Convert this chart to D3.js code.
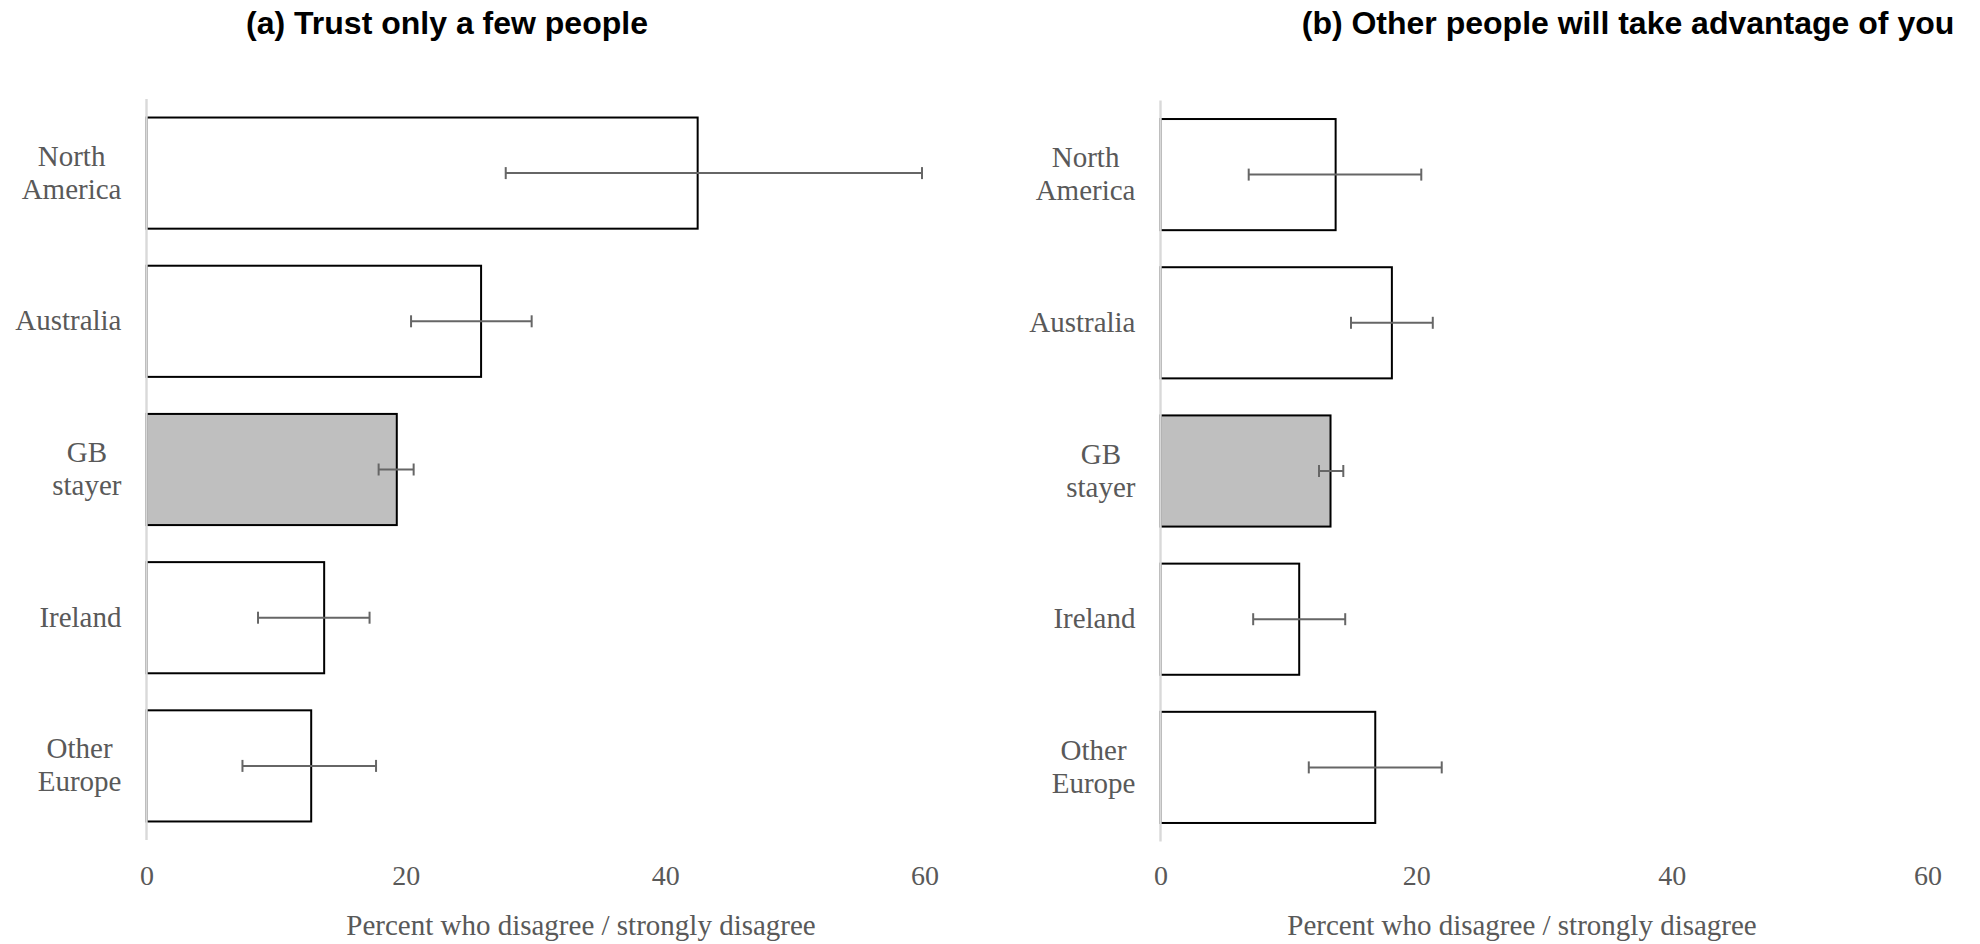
<!DOCTYPE html>
<html>
<head>
<meta charset="utf-8">
<script src="https://cdn.jsdelivr.net/npm/d3@7"></script>
<style>
  html, body { margin: 0; padding: 0; background: #fff; }
  svg { display: block; }
</style>
</head>
<body>
<svg id="chart" width="1980" height="944"></svg>
<script>
// ---- data ----
const categories = ["North America", "Australia", "GB stayer", "Ireland", "Other Europe"];
const categoryLines = [["North", "America"], ["Australia"], ["GB", "stayer"], ["Ireland"], ["Other", "Europe"]];
const highlighted = "GB stayer";

const titleA = "(a) Trust only a few people";
const valuesA = [42.5, 25.8, 19.3, 13.7, 12.7];
const lowerA  = [27.7, 20.4, 17.9, 8.6, 7.4];
const upperA  = [59.8, 29.7, 20.6, 17.2, 17.7];

const titleB = "(b) Other people will take advantage of you";
const valuesB = [13.7, 18.1, 13.3, 10.85, 16.8];
const lowerB  = [6.9, 14.9, 12.4, 7.25, 11.6];
const upperB  = [20.4, 21.3, 14.3, 14.45, 22.0];

const tickValues = [0, 20, 40, 60];
const xDomain = [0, 60];
const axisTitle = "Percent who disagree / strongly disagree";

// ---- layout ----
const svg = d3.select("#chart");
const serif = "'Liberation Serif', 'Times New Roman', serif";
const sans = "'Liberation Sans', Arial, sans-serif";
const textColor = "#595959";

const panels = [
  { title: titleA, values: valuesA, lower: lowerA, upper: upperA,
    x0: 146.5, x1: 924.6, y0: 99, y1: 840, titleX: 447, axisTitleX: 581 },
  { title: titleB, values: valuesB, lower: lowerB, upper: upperB,
    x0: 1160.5, x1: 1927.5, y0: 100.5, y1: 841.5, titleX: 1628, axisTitleX: 1522 }
];

panels.forEach(p => {
  const g = svg.append("g");
  const x = d3.scaleLinear().domain(xDomain).range([p.x0, p.x1]);
  const y = d3.scaleBand().domain(categories).range([p.y0, p.y1])
    .paddingInner(0.25).paddingOuter(0.125);

  const rows = categories.map((c, i) => ({
    cat: c, lines: categoryLines[i], v: p.values[i], lo: p.lower[i], hi: p.upper[i]
  }));

  // title
  g.append("text")
    .attr("x", p.titleX).attr("y", 34)
    .attr("text-anchor", "middle")
    .style("font-family", sans).style("font-weight", "bold")
    .style("font-size", "32px").style("fill", "#000")
    .text(p.title);

  // x axis (tick labels only)
  const xAxis = d3.axisBottom(x).tickValues(tickValues).tickSize(0).tickPadding(0);
  const ax = g.append("g").attr("transform", `translate(0, 885)`).call(xAxis);
  ax.select(".domain").remove();
  ax.selectAll("text")
    .attr("dy", 0).attr("y", 0)
    .style("font-family", serif).style("font-size", "28px").style("fill", textColor);

  // axis title
  g.append("text")
    .attr("x", p.axisTitleX).attr("y", 935)
    .attr("text-anchor", "middle")
    .style("font-family", serif).style("font-size", "29px").style("fill", textColor)
    .text(axisTitle);

  // bars
  g.selectAll("rect.bar").data(rows).join("rect")
    .attr("class", "bar")
    .attr("x", x(0))
    .attr("y", d => y(d.cat))
    .attr("width", d => x(d.v) - x(0))
    .attr("height", y.bandwidth())
    .attr("fill", d => d.cat === highlighted ? "#bfbfbf" : "#ffffff")
    .attr("stroke", "#000").attr("stroke-width", 2);

  // vertical category axis line (drawn over bar left edges)
  g.append("line")
    .attr("x1", x(0)).attr("x2", x(0))
    .attr("y1", p.y0).attr("y2", p.y1)
    .attr("stroke", "#d9d9d9").attr("stroke-width", 2.4);

  // error bars
  const eb = g.selectAll("g.eb").data(rows).join("g").attr("class", "eb")
    .attr("stroke", "#666666").attr("stroke-width", 2);
  const cy = d => y(d.cat) + y.bandwidth() / 2;
  eb.append("line").attr("x1", d => x(d.lo)).attr("x2", d => x(d.hi))
    .attr("y1", cy).attr("y2", cy);
  eb.append("line").attr("x1", d => x(d.lo)).attr("x2", d => x(d.lo))
    .attr("y1", d => cy(d) - 6).attr("y2", d => cy(d) + 6);
  eb.append("line").attr("x1", d => x(d.hi)).attr("x2", d => x(d.hi))
    .attr("y1", d => cy(d) - 6).attr("y2", d => cy(d) + 6);

  // category labels: block right-aligned, lines centered within block
  const rightEdge = x(0) - 25;
  rows.forEach(d => {
    const lg = g.append("g");
    const texts = d.lines.map((ln, i) => lg.append("text")
      .attr("y", cy(d) + (i - (d.lines.length - 1) / 2) * 33 + 9)
      .attr("text-anchor", "middle")
      .style("font-family", serif).style("font-size", "29px").style("fill", textColor)
      .text(ln));
    const w = d3.max(texts, t => t.node().getComputedTextLength());
    texts.forEach(t => t.attr("x", rightEdge - w / 2));
  });
});
</script>
</body>
</html>
